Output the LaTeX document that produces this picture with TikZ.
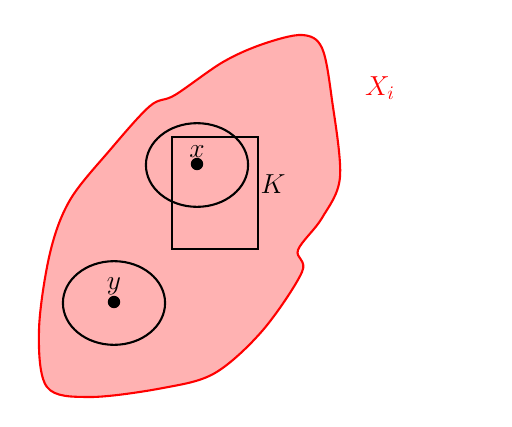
\documentclass[tikz,border=0pt]{standalone}
\usepackage{tikz}
\usetikzlibrary{positioning}

\begin{document}
\begin{tikzpicture}[
  x=0.0184cm, y=-0.0184cm,
  region/.style={draw=red, line width=1.1pt, fill=red!30},
  nbhd/.style={draw, line width=1.1pt},
  pt/.style={circle, fill, inner sep=0pt, minimum size=6.5pt},
  setname/.style={inner sep=1pt, font=\Large}
]
\useasboundingbox (0,0) rectangle (512,427);
\draw[region] plot[smooth cycle, tension=0.55] coordinates {
  (302,35) (322,48) (332,100) (340,177) (322,218) (298,250)
  (302,272) (263,330) (215,373) (163,388) (90,397) (47,387)
  (39,330) (50,253) (70,200) (110,150) (150,106) (175,95)
  (223,62) (263,44)};
\node[setname, text=red] (Xi) at (380,88) {$X_i$};
% neighbourhoods of the two points
\draw[nbhd] (197,165) ellipse [x radius=0.94cm, y radius=0.77cm];
\draw[nbhd] (114,303) ellipse [x radius=0.94cm, y radius=0.77cm];
\draw[nbhd] (172,137) rectangle (258,249);
\node[setname] (K) at (273,184) {$K$};
\node[pt] (x) at (197,164) {};
\node[pt] (y) at (114,302) {};
\node[setname, above=-1pt of x] (xlabel) {$x$};
\node[setname, above=-1pt of y] (ylabel) {$y$};
\end{tikzpicture}
\end{document}
